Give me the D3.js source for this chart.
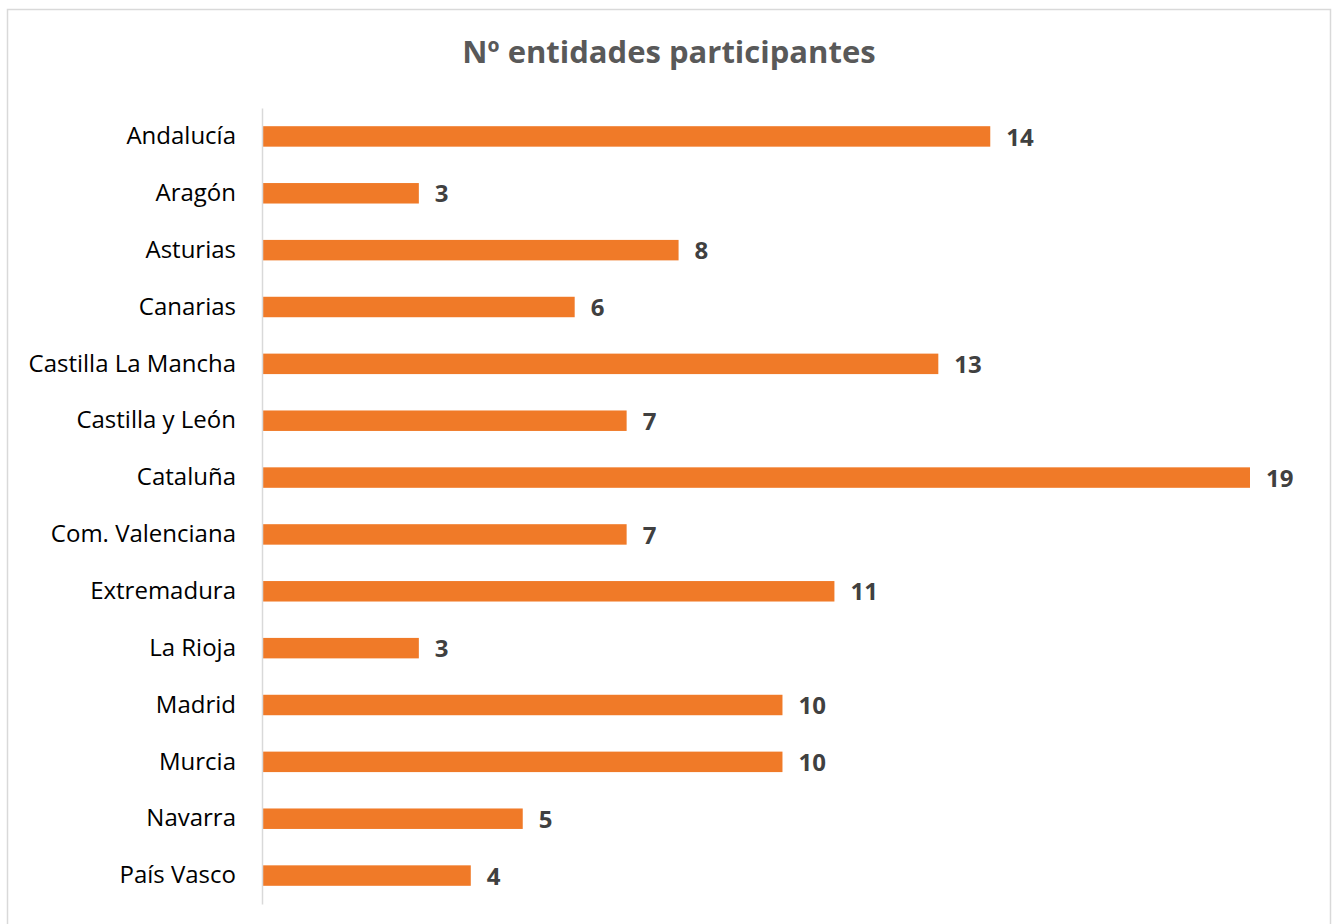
<!DOCTYPE html>
<html><head><meta charset="utf-8">
<script src="https://cdn.jsdelivr.net/npm/d3@7"></script>
<style>body{margin:0;background:#fff}svg{display:block}</style>
</head><body>
<script>
const categories = ["Andalucía","Aragón","Asturias","Canarias","Castilla La Mancha","Castilla y León","Cataluña","Com. Valenciana","Extremadura","La Rioja","Madrid","Murcia","Navarra","País Vasco"];
const values = [14,3,8,6,13,7,19,7,11,3,10,10,5,4];
const title = "Nº entidades participantes";

const W = 1336, H = 924;
const svg = d3.select("body").append("svg").attr("width", W).attr("height", H);
const font = "'Open Sans', sans-serif";

svg.append("rect").attr("x", 7.5).attr("y", 9.5).attr("width", 1323).attr("height", 930)
  .attr("fill", "#fff").attr("stroke", "#D9D9D9").attr("stroke-width", 1.5);

svg.append("text").attr("x", 669).attr("y", 63).attr("text-anchor", "middle")
  .attr("font-family", font).attr("font-weight", "bold").attr("font-size", 31)
  .attr("fill", "#595959").text(title);

const x0 = 263;
const x = d3.scaleLinear().domain([0, 19]).range([x0, 1250]);
const y = d3.scaleBand().domain(categories).range([108, 904]).paddingInner(0.64).paddingOuter(0.32);

svg.selectAll("rect.bar").data(values).enter().append("rect").attr("class", "bar")
  .attr("x", x(0)).attr("y", (d, i) => y(categories[i]))
  .attr("width", d => x(d) - x(0)).attr("height", y.bandwidth())
  .attr("fill", "#F07A28");

const axis = svg.append("g").attr("transform", `translate(${x0 - 1},0)`)
  .call(d3.axisLeft(y).tickSize(0).tickPadding(26));
axis.select(".domain").attr("stroke", "#D9D9D9").attr("stroke-width", 1.5);
axis.selectAll("text").attr("font-family", font).attr("font-size", 24).attr("fill", "#000");

svg.selectAll("text.val").data(values).enter().append("text").attr("class", "val")
  .attr("x", d => x(d) + 16).attr("y", (d, i) => y(categories[i]) + y.bandwidth() / 2)
  .attr("dy", "0.38em").attr("font-family", font).attr("font-weight", "bold")
  .attr("font-size", 24).attr("fill", "#404040").text(d => d);
</script>
</body></html>
